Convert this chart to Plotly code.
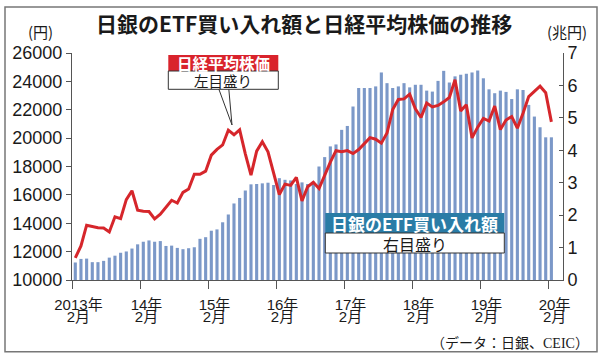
import plotly.graph_objects as go

# ---------------- data ----------------
months = [f"{y}-{m:02d}" for y in range(2013, 2021) for m in range(1, 13)]
months = months[months.index("2013-02"):months.index("2020-02") + 1]

nikkei = [11560, 12398, 13861, 13775, 13677, 13668, 13389, 14456, 14328, 15662, 16291,
          14915, 14841, 14828, 14304, 14632, 15162, 15621, 15425, 16174, 16414, 17460, 17451,
          17674, 18798, 19207, 19520, 20563, 20236, 20585, 18890, 17388, 19083, 19747, 19034,
          17518, 16027, 16759, 16666, 17235, 15576, 16569, 16887, 16450, 17425, 18308, 19114,
          19041, 19119, 18909, 19197, 19651, 20033, 19925, 19646, 20356, 22012, 22725, 22765,
          23098, 22068, 21454, 22468, 22202, 22305, 22554, 22865, 24120, 21920, 22351, 20015,
          20773, 21385, 21206, 22259, 20601, 21276, 21522, 20704, 21756, 22927, 23294, 23657,
          23205, 21143]

etf = [0.54, 0.65, 0.66, 0.55, 0.55, 0.59, 0.69, 0.75, 0.84, 0.88, 0.97, 1.10,
       1.18, 1.22, 1.18, 1.20, 1.05, 1.06, 0.99, 0.95, 0.98, 1.01, 1.27, 1.32,
       1.52, 1.56, 1.78, 2.02, 2.36, 2.53, 2.76, 2.95, 2.96, 2.98, 3.00, 2.93,
       3.14, 3.09, 3.07, 2.96, 3.01, 2.96, 3.03, 3.50, 3.79, 4.12, 4.18, 4.63,
       4.75, 5.35, 5.92, 5.92, 5.92, 5.97, 6.40, 6.07, 5.92, 5.97, 6.07, 5.94,
       6.02, 6.02, 5.84, 5.81, 6.14, 6.45, 6.09, 6.28, 6.33, 6.36, 6.40, 6.46,
       6.22, 5.88, 5.76, 5.84, 5.80, 5.58, 5.88, 5.86, 5.40, 5.04, 4.71, 4.40,
       4.40]

year_labels = ["2013年", "14年", "15年", "16年", "17年", "18年", "19年", "20年"]
month_label = "2月"

title = "日銀のETF買い入れ額と日経平均株価の推移"
source = "（データ：日銀、CEIC）"

# ---------------- layout helpers ----------------
W_FIG, H_FIG = 600, 356
L, R, T, B = 71.7, 562.7, 53.0, 280.0
PW, PH = R - L, B - T


def px(x):
    return (x - L) / PW


def py(y):
    return (B - y) / PH


idx = list(range(len(months)))
tickpos = [i - 0.5 for i, m in enumerate(months) if m.endswith("-02")]

SANS = "Liberation Sans, Noto Sans CJK JP, sans-serif"
CJK = "Noto Sans CJK JP, sans-serif"
INK = "#1a1a1a"
AXIS = "#555555"

fig = go.Figure()
fig.add_trace(go.Bar(x=idx, y=etf, marker=dict(color="#7b98c8", line=dict(width=0)),
                     yaxis="y", xaxis="x", hoverinfo="skip"))
fig.add_trace(go.Scatter(x=idx, y=nikkei, mode="lines", yaxis="y2", xaxis="x",
                         line=dict(color="#d6262b", width=3), hoverinfo="skip"))
# invisible trace so xaxis2 draws
fig.add_trace(go.Scatter(x=[idx[0]], y=[0], xaxis="x2", yaxis="y", mode="markers",
                         marker=dict(opacity=0), hoverinfo="skip"))

fig.update_layout(
    width=W_FIG, height=H_FIG,
    margin=dict(l=L, r=W_FIG - R, t=T, b=H_FIG - B, pad=0),
    paper_bgcolor="white", plot_bgcolor="white",
    showlegend=False, bargap=0.45,
    font=dict(family=SANS, color=INK, size=17),
    xaxis=dict(range=[-0.58, 86.05], tickmode="array", tickvals=tickpos, ticktext=year_labels,
               ticks="outside", ticklen=8, tickcolor=AXIS, showline=True, linecolor=AXIS,
               linewidth=1, showgrid=False, zeroline=False, ticklabelshift=6,
               ticklabelstandoff=3,
               tickfont=dict(size=15, family=SANS, color=INK)),
    xaxis2=dict(range=[-0.58, 86.05], overlaying="x", anchor="y", side="bottom",
                tickmode="array", tickvals=tickpos, ticktext=[month_label] * len(tickpos),
                ticks="", showline=False, showgrid=False, zeroline=False,
                ticklabelshift=6, ticklabelstandoff=26,
                tickfont=dict(size=15, family=SANS, color=INK)),
    yaxis=dict(range=[0, 7], dtick=1, side="right", ticks="inside", ticklen=4,
               tickcolor=AXIS, showline=True, linecolor=AXIS, linewidth=1,
               showgrid=False, zeroline=False, tickfont=dict(size=18)),
    yaxis2=dict(range=[10000, 26000], dtick=2000, side="left", overlaying="y",
                tickformat="d",
                ticks="outside", ticklen=5, tickcolor=AXIS, showline=True,
                linecolor=AXIS, linewidth=1, showgrid=False, zeroline=False,
                tickfont=dict(size=18)),
)

shapes = []
# outer frame
shapes.append(dict(type="rect", xref="paper", yref="paper", x0=px(4.7), x1=px(596.7),
                   y0=py(351.7), y1=py(7), line=dict(color="#777777", width=1.5),
                   fillcolor="rgba(0,0,0,0)", layer="above"))
# red legend box
shapes.append(dict(type="rect", xref="paper", yref="paper", x0=px(168), x1=px(278),
                   y0=py(71), y1=py(55), fillcolor="#d9232c", line=dict(width=0)))
shapes.append(dict(type="path", xref="paper", yref="paper",
                   path=f"M {px(218.5)} {py(89)} L {px(231.7)} {py(125)} L {px(228.5)} {py(89)}",
                   line=dict(color="#333333", width=1), fillcolor="white"))
shapes.append(dict(type="rect", xref="paper", yref="paper", x0=px(168), x1=px(278),
                   y0=py(89.3), y1=py(71), fillcolor="white", line=dict(color="#333333", width=1)))
# blue legend box
shapes.append(dict(type="rect", xref="paper", yref="paper", x0=px(325), x1=px(504),
                   y0=py(233), y1=py(213), fillcolor="#2a7ca6", line=dict(width=0)))
shapes.append(dict(type="rect", xref="paper", yref="paper", x0=px(325), x1=px(504),
                   y0=py(253), y1=py(233), fillcolor="white", line=dict(color="#333333", width=1)))

ann = []


def text(x, y, s, size, color=INK, bold=False, family=CJK, xanchor="center"):
    ann.append(dict(xref="paper", yref="paper", x=px(x), y=py(y), text=f"<b>{s}</b>" if bold else s,
                    showarrow=False, xanchor=xanchor, yanchor="middle",
                    font=dict(size=size, color=color, family=family)))


text(303.5, 22.7, title, 21, bold=True)
text(40, 31.7, "(円)", 15)
text(567, 31.7, "(兆円)", 15)
text(223, 63, "日経平均株価", 15.5, color="white", bold=True)
text(223, 80.5, "左目盛り", 14.5)
text(414.5, 223, "日銀のETF買い入れ額", 17, color="white", bold=True)
text(414.5, 243.5, "右目盛り", 16)
text(591, 343, source, 14, family="Liberation Serif, Noto Sans CJK JP, serif", xanchor="right")

fig.update_layout(shapes=shapes, annotations=ann)
fig.write_html("out.html", config={"displayModeBar": False},
               post_script="document.body.style.margin='0';document.body.style.padding='0';")
